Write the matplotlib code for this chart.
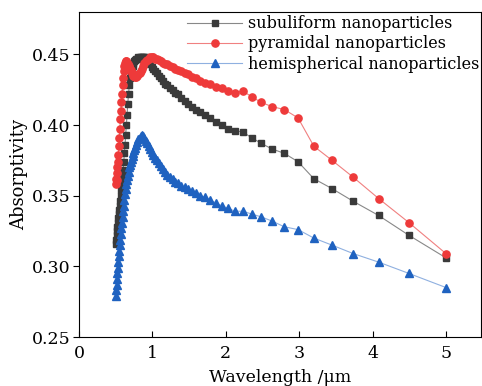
import matplotlib
matplotlib.use("Agg")
import matplotlib.pyplot as plt

# wavelength grid (um)
wavelength = [
    0.500, 0.506, 0.512, 0.517, 0.524, 0.530, 0.536, 0.543, 0.549, 0.556,
    0.563, 0.571, 0.578, 0.586, 0.593, 0.602, 0.610, 0.618, 0.627, 0.636,
    0.645, 0.655, 0.664, 0.675, 0.685, 0.696, 0.707, 0.718, 0.730, 0.742,
    0.755, 0.768, 0.781, 0.795, 0.810, 0.825, 0.840, 0.857, 0.873, 0.891,
    0.909, 0.928, 0.948, 0.969, 0.990, 1.013, 1.036, 1.061, 1.087, 1.114,
    1.143, 1.173, 1.205, 1.238, 1.274, 1.311, 1.351, 1.394, 1.439, 1.487,
    1.538, 1.594, 1.653, 1.717, 1.786, 1.860, 1.942, 2.030, 2.128, 2.235,
    2.353, 2.484, 2.632, 2.797, 2.985, 3.200, 3.448, 3.738, 4.082, 4.494,
    5.000,
]

subuliform = [
    0.316, 0.319, 0.322, 0.325, 0.328, 0.331, 0.334, 0.337, 0.340, 0.343,
    0.346, 0.350, 0.354, 0.358, 0.363, 0.368, 0.374, 0.380, 0.386, 0.393,
    0.400, 0.407, 0.415, 0.422, 0.428, 0.433, 0.437, 0.440, 0.442, 0.444,
    0.445, 0.446, 0.447, 0.447, 0.448, 0.448, 0.448, 0.448, 0.448, 0.448,
    0.448, 0.447, 0.446, 0.443, 0.441, 0.440, 0.438, 0.437, 0.435, 0.433,
    0.431, 0.429, 0.428, 0.426, 0.425, 0.423, 0.422, 0.419, 0.417, 0.415,
    0.413, 0.411, 0.409, 0.407, 0.405, 0.402, 0.400, 0.397, 0.396, 0.395,
    0.391, 0.387, 0.383, 0.380, 0.374, 0.362, 0.355, 0.346, 0.336, 0.322,
    0.306,
]

pyramidal = [
    0.362, 0.358, 0.361, 0.366, 0.370, 0.374, 0.379, 0.385, 0.391, 0.397,
    0.404, 0.410, 0.416, 0.422, 0.428, 0.433, 0.438, 0.442, 0.444, 0.445,
    0.445, 0.444, 0.443, 0.442, 0.441, 0.440, 0.439, 0.437, 0.436, 0.435,
    0.435, 0.434, 0.434, 0.435, 0.436, 0.437, 0.438, 0.440, 0.442, 0.444,
    0.445, 0.446, 0.447, 0.448, 0.448, 0.448, 0.447, 0.447, 0.446, 0.445,
    0.444, 0.443, 0.443, 0.442, 0.441, 0.440, 0.439, 0.438, 0.437, 0.436,
    0.434, 0.433, 0.431, 0.430, 0.429, 0.427, 0.426, 0.424, 0.423, 0.424,
    0.420, 0.416, 0.413, 0.411, 0.405, 0.385, 0.375, 0.363, 0.348, 0.331,
    0.309,
]

hemispherical = [
    0.279, 0.283, 0.287, 0.291, 0.295, 0.299, 0.303, 0.307, 0.311, 0.315,
    0.319, 0.323, 0.327, 0.331, 0.335, 0.339, 0.343, 0.347, 0.351, 0.355,
    0.358, 0.361, 0.364, 0.367, 0.370, 0.372, 0.374, 0.376, 0.378, 0.380,
    0.382, 0.384, 0.386, 0.388, 0.390, 0.391, 0.392, 0.393, 0.392, 0.391,
    0.389, 0.387, 0.385, 0.383, 0.381, 0.379, 0.377, 0.375, 0.373, 0.371,
    0.369, 0.367, 0.365, 0.363, 0.362, 0.360, 0.359, 0.357, 0.356, 0.355,
    0.353, 0.352, 0.350, 0.349, 0.347, 0.345, 0.343, 0.341, 0.339, 0.339,
    0.337, 0.335, 0.332, 0.328, 0.326, 0.320, 0.315, 0.309, 0.303, 0.295,
    0.285,
]

labels = ["subuliform nanoparticles", "pyramidal nanoparticles",
          "hemispherical nanoparticles"]

plt.rcParams['font.family'] = ['DejaVu Serif']
plt.rcParams['mathtext.fontset'] = 'dejavuserif'

fig = plt.figure(figsize=(4.82, 3.86), dpi=100)
ax = fig.add_axes([79 / 482, 49 / 386, 402 / 482, 325 / 386])

ax.plot(wavelength, subuliform, color='#888888', lw=0.8, marker='s', ms=4.8,
        mfc='#3a3a3a', mec='#3a3a3a', label=labels[0])
ax.plot(wavelength, pyramidal, color='#f08080', lw=0.8, marker='o', ms=5.2,
        mfc='#ee3a3a', mec='#ee3a3a', label=labels[1])
ax.plot(wavelength, hemispherical, color='#8fb0e0', lw=0.8, marker='^', ms=5.6,
        mfc='#1f62c0', mec='#1f62c0', label=labels[2])

ax.set_xlim(0, 5.477)
ax.set_ylim(0.25, 0.48)
ax.set_xticks([0, 1, 2, 3, 4, 5])
ax.set_yticks([0.25, 0.30, 0.35, 0.40, 0.45])
ax.set_yticklabels(['0.25', '0.30', '0.35', '0.40', '0.45'])
ax.tick_params(axis='x', direction='in', length=4, labelsize=12.5, pad=6)
ax.tick_params(axis='y', direction='out', length=4, labelsize=12.5, pad=2)
ax.set_xlabel('Wavelength /μm', fontsize=12.5, labelpad=5)
ax.set_ylabel('Absorptivity', fontsize=13, labelpad=3)

ax.legend(loc='upper right', frameon=False, fontsize=11.5, handlelength=3.4,
          handletextpad=0.4, labelspacing=0.2, borderaxespad=0.0,
          bbox_to_anchor=(1.012, 1.01))

fig.savefig('out.png', dpi=100)
